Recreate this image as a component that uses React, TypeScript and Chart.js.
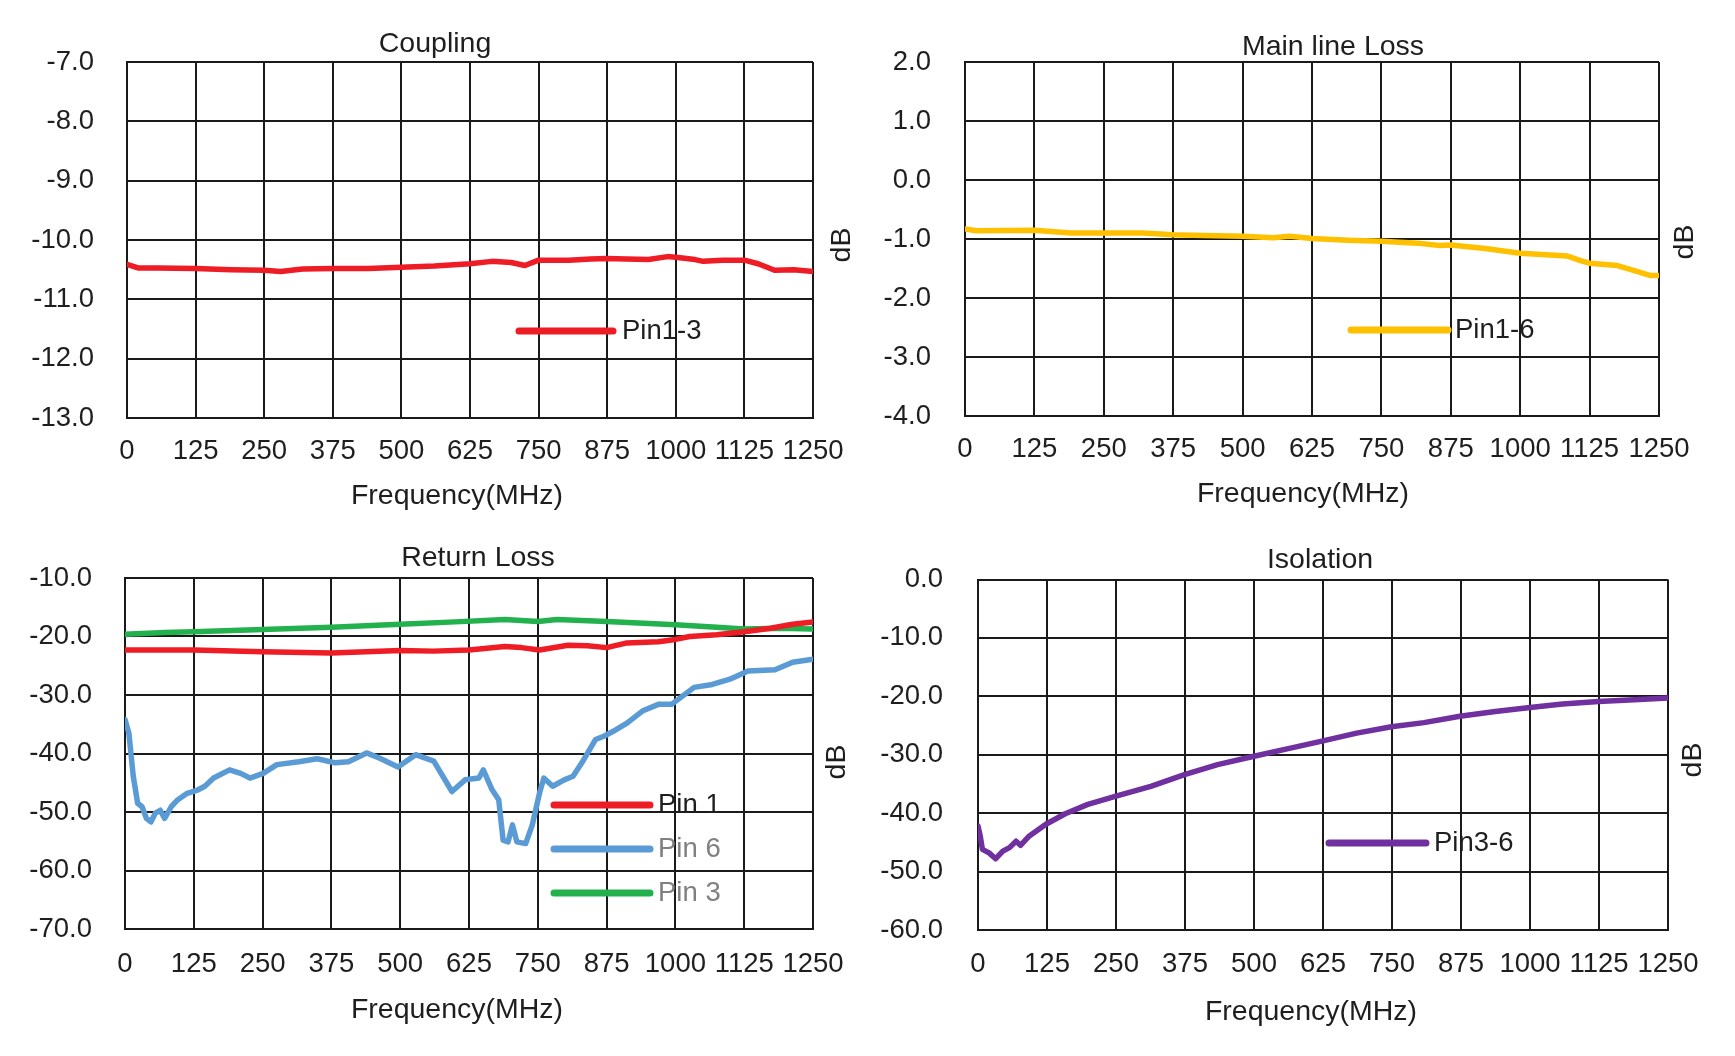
import React, { useEffect, useRef } from "react";
import { Chart, registerables } from "chart.js";

Chart.register(...registerables);

// ---------------- DATA ----------------
const FREQ_MIN = 0;
const FREQ_MAX = 1250;
const FREQ_STEP = 125;

// Coupling (Pin1-3)
const couplingFreq = [0, 20, 55, 125, 190, 250, 280, 320, 375, 440, 500, 560, 625, 665, 700, 725, 750, 805, 845, 875, 910, 950, 985, 1000, 1035, 1050, 1085, 1125, 1150, 1180, 1215, 1250];
const couplingDb = [-10.41, -10.47, -10.47, -10.48, -10.5, -10.51, -10.53, -10.49, -10.48, -10.48, -10.46, -10.44, -10.4, -10.36, -10.38, -10.43, -10.34, -10.34, -10.32, -10.31, -10.32, -10.33, -10.28, -10.29, -10.33, -10.36, -10.34, -10.34, -10.4, -10.51, -10.5, -10.53];

// Main line loss (Pin1-6)
const mainFreq = [0, 20, 125, 190, 250, 320, 375, 430, 500, 555, 585, 625, 690, 750, 815, 855, 875, 937, 1000, 1085, 1110, 1125, 1175, 1210, 1235, 1250];
const mainDb = [-0.83, -0.86, -0.85, -0.9, -0.9, -0.9, -0.93, -0.94, -0.955, -0.98, -0.955, -0.99, -1.02, -1.04, -1.07, -1.11, -1.1, -1.16, -1.24, -1.29, -1.37, -1.41, -1.45, -1.55, -1.62, -1.62];

// Return loss
const rlPin1Freq = [0, 125, 250, 375, 500, 560, 625, 690, 720, 753, 805, 840, 875, 912, 969, 1000, 1026, 1075, 1125, 1173, 1213, 1250];
const rlPin1Db = [-22.3, -22.3, -22.6, -22.8, -22.4, -22.5, -22.3, -21.7, -21.9, -22.3, -21.5, -21.6, -21.9, -21.1, -20.9, -20.5, -20.0, -19.7, -19.2, -18.6, -17.9, -17.5];

const rlPin6Freq = [0, 7, 15, 23, 31, 39, 47, 55, 64, 72, 84, 96, 113, 133, 145, 161, 190, 210, 227, 251, 276, 316, 349, 382, 406, 439, 463, 496, 528, 561, 594, 618, 643, 651, 667, 679, 687, 696, 704, 712, 728, 740, 753, 761, 777, 798, 814, 830, 855, 871, 887, 912, 940, 969, 993, 1034, 1067, 1099, 1132, 1181, 1213, 1250];
const rlPin6Db = [-34.2, -36.5, -43.9, -48.5, -49.1, -51.1, -51.7, -50.2, -49.7, -51.1, -49.1, -47.9, -46.8, -46.2, -45.6, -44.2, -42.8, -43.4, -44.2, -43.4, -41.9, -41.4, -40.9, -41.6, -41.4, -39.9, -40.8, -42.3, -40.2, -41.3, -46.5, -44.5, -44.2, -42.8, -46.2, -47.9, -54.8, -55.1, -52.2, -55.1, -55.4, -52.2, -46.8, -44.2, -45.6, -44.5, -43.9, -41.6, -37.6, -37.0, -36.2, -34.8, -32.75, -31.6, -31.6, -28.7, -28.2, -27.3, -25.9, -25.7, -24.4, -23.9];

const rlPin3Freq = [0, 72, 125, 250, 375, 500, 600, 690, 750, 785, 875, 1000, 1075, 1125, 1190, 1250];
const rlPin3Db = [-19.6, -19.3, -19.2, -18.8, -18.4, -17.9, -17.5, -17.1, -17.45, -17.1, -17.45, -18.0, -18.4, -18.7, -18.6, -18.7];

// Isolation (Pin3-6)
const isoFreq = [0, 4, 8, 20, 32, 45, 57, 69, 77, 93, 123, 158, 199, 250, 313, 374, 434, 498, 564, 621, 686, 749, 808, 873, 937, 1000, 1059, 1124, 1189, 1250];
const isoDb = [-42.2, -43.9, -46.2, -46.8, -47.8, -46.5, -45.9, -44.8, -45.5, -43.9, -41.9, -40.1, -38.5, -37.1, -35.4, -33.4, -31.7, -30.3, -28.9, -27.7, -26.3, -25.2, -24.5, -23.4, -22.6, -21.9, -21.3, -20.9, -20.6, -20.3];

// ---------------- STYLE ----------------
const FONT = "'Liberation Sans', Arial, sans-serif";
const TEXT = "#1e1e1e";
const GRID = "#1a1a1a";
const RED = "#EE1C25";
const YELLOW = "#FFC000";
const BLUE = "#5B9BD5";
const GREEN = "#22B14C";
const PURPLE = "#7030A0";
const TICK_SIZE = 27.5;
const LABEL_SIZE = 28.5;

type Series = { label: string; freq: number[]; db: number[]; color: string; textColor: string };
type Panel = {
  id: string;
  box: { left: number; top: number; width: number; height: number };
  plot: { l: number; t: number; r: number; b: number };
  yMin: number;
  yMax: number;
  yStep: number;
  yPad: number;
  xPad: number;
  title: string;
  titlePos: [number, number];
  xLabelPos: [number, number];
  dbPos: [number, number];
  legend: { x1: number; x2: number; textX: number; ys: number[] };
  series: Series[];
};

const panels: Panel[] = [
  {
    id: "coupling",
    box: { left: 0, top: 0, width: 868, height: 528 },
    plot: { l: 127, t: 62, r: 813, b: 418 },
    yMin: -13, yMax: -7, yStep: 1, yPad: 33, xPad: 17,
    title: "Coupling",
    titlePos: [435, 44],
    xLabelPos: [457, 496],
    dbPos: [842, 245],
    legend: { x1: 519, x2: 613, textX: 622, ys: [331] },
    series: [{ label: "Pin1-3", freq: couplingFreq, db: couplingDb, color: RED, textColor: TEXT }],
  },
  {
    id: "main",
    box: { left: 868, top: 0, width: 867, height: 528 },
    plot: { l: 965, t: 62, r: 1659, b: 416 },
    yMin: -4, yMax: 2, yStep: 1, yPad: 34, xPad: 17,
    title: "Main line Loss",
    titlePos: [1333, 47],
    xLabelPos: [1303, 494],
    dbPos: [1685, 242],
    legend: { x1: 1351, x2: 1448, textX: 1455, ys: [330] },
    series: [{ label: "Pin1-6", freq: mainFreq, db: mainDb, color: YELLOW, textColor: TEXT }],
  },
  {
    id: "return",
    box: { left: 0, top: 528, width: 868, height: 528 },
    plot: { l: 125, t: 578, r: 813, b: 929 },
    yMin: -70, yMax: -10, yStep: 10, yPad: 33, xPad: 19,
    title: "Return Loss",
    titlePos: [478, 558],
    xLabelPos: [457, 1010],
    dbPos: [837, 762],
    legend: { x1: 554, x2: 650, textX: 658, ys: [805, 849, 893] },
    series: [
      { label: "Pin 1", freq: rlPin1Freq, db: rlPin1Db, color: RED, textColor: TEXT },
      { label: "Pin 6", freq: rlPin6Freq, db: rlPin6Db, color: BLUE, textColor: "#808080" },
      { label: "Pin 3", freq: rlPin3Freq, db: rlPin3Db, color: GREEN, textColor: "#808080" },
    ],
  },
  {
    id: "isolation",
    box: { left: 868, top: 528, width: 867, height: 528 },
    plot: { l: 978, t: 578, r: 1668, b: 930 },
    yMin: -60, yMax: 0, yStep: 10, yPad: 35, xPad: 18,
    title: "Isolation",
    titlePos: [1320, 560],
    xLabelPos: [1311, 1012],
    dbPos: [1693, 760],
    legend: { x1: 1329, x2: 1426, textX: 1434, ys: [843] },
    series: [{ label: "Pin3-6", freq: isoFreq, db: isoDb, color: PURPLE, textColor: TEXT }],
  },
];

function ChartPanel({ panel }: { panel: Panel }) {
  const ref = useRef<HTMLCanvasElement | null>(null);

  useEffect(() => {
    const canvas = ref.current;
    if (!canvas) return;
    const { box, plot } = panel;
    const ox = box.left;
    const oy = box.top;

    const decorations = {
      id: "decorations-" + panel.id,
      afterDraw(chart: any) {
        const ctx = chart.ctx as CanvasRenderingContext2D;
        ctx.save();
        ctx.fillStyle = TEXT;
        ctx.textAlign = "center";
        ctx.textBaseline = "middle";
        ctx.font = `${LABEL_SIZE}px ${FONT}`;
        ctx.fillText(panel.title, panel.titlePos[0] - ox, panel.titlePos[1] - oy);
        ctx.fillText("Frequency(MHz)", panel.xLabelPos[0] - ox, panel.xLabelPos[1] - oy);

        ctx.save();
        ctx.translate(panel.dbPos[0] - ox, panel.dbPos[1] - oy);
        ctx.rotate(-Math.PI / 2);
        ctx.fillText("dB", 0, 0);
        ctx.restore();

        // legend
        panel.series.forEach((s, i) => {
          const y = panel.legend.ys[i] - oy;
          ctx.strokeStyle = s.color;
          ctx.lineWidth = 7;
          ctx.lineCap = "round";
          ctx.beginPath();
          ctx.moveTo(panel.legend.x1 - ox, y);
          ctx.lineTo(panel.legend.x2 - ox, y);
          ctx.stroke();
          ctx.fillStyle = s.textColor;
          ctx.textAlign = "left";
          ctx.font = `${TICK_SIZE}px ${FONT}`;
          ctx.fillText(s.label, panel.legend.textX - ox, y);
        });
        ctx.restore();
      },
    };

    const chart = new Chart(canvas, {
      type: "line",
      data: {
        datasets: panel.series.map((s) => ({
          label: s.label,
          data: s.freq.map((f, i) => ({ x: f, y: s.db[i] })),
          borderColor: s.color,
          backgroundColor: s.color,
          borderWidth: 5.5,
          borderCapStyle: "round",
          borderJoinStyle: "round",
          pointRadius: 0,
          tension: 0,
          fill: false,
        })),
      },
      options: {
        animation: false,
        responsive: false,
        maintainAspectRatio: false,
        devicePixelRatio: 1,
        events: [],
        layout: {
          padding: {
            left: 0,
            top: plot.t - box.top,
            right: box.left + box.width - plot.r,
            bottom: 0,
          },
        },
        plugins: {
          legend: { display: false },
          title: { display: false },
          tooltip: { enabled: false },
        },
        scales: {
          x: {
            type: "linear",
            min: FREQ_MIN,
            max: FREQ_MAX,
            afterFit: (scale: any) => {
              scale.height = box.top + box.height - plot.b;
            },
            afterBuildTicks: (scale: any) => {
              const t: { value: number }[] = [];
              for (let v = FREQ_MIN; v <= FREQ_MAX; v += FREQ_STEP) t.push({ value: v });
              scale.ticks = t;
            },
            ticks: {
              autoSkip: false,
              maxRotation: 0,
              minRotation: 0,
              padding: panel.xPad,
              color: TEXT,
              font: { family: FONT, size: TICK_SIZE },
              callback: (v: any) => String(v),
            },
            grid: { color: GRID, lineWidth: 2, drawTicks: false },
            border: { display: true, color: GRID, width: 2 },
          },
          y: {
            type: "linear",
            min: panel.yMin,
            max: panel.yMax,
            afterFit: (scale: any) => {
              scale.width = plot.l - box.left;
            },
            afterBuildTicks: (scale: any) => {
              const t: { value: number }[] = [];
              for (let v = panel.yMin; v <= panel.yMax + 1e-9; v += panel.yStep) t.push({ value: Math.round(v * 10) / 10 });
              scale.ticks = t;
            },
            ticks: {
              padding: panel.yPad,
              color: TEXT,
              font: { family: FONT, size: TICK_SIZE },
              callback: (v: any) => Number(v).toFixed(1),
            },
            grid: { color: GRID, lineWidth: 2, drawTicks: false },
            border: { display: true, color: GRID, width: 2 },
          },
        },
      },
      plugins: [decorations],
    } as any);

    return () => chart.destroy();
  }, [panel]);

  return (
    <canvas
      ref={ref}
      width={panel.box.width}
      height={panel.box.height}
      style={{
        position: "absolute",
        left: panel.box.left,
        top: panel.box.top,
        width: panel.box.width,
        height: panel.box.height,
      }}
    />
  );
}

export default function App() {
  return (
    <div
      style={{
        position: "fixed",
        left: 0,
        top: 0,
        width: 1735,
        height: 1056,
        background: "#ffffff",
        overflow: "hidden",
      }}
    >
      {panels.map((p) => (
        <ChartPanel key={p.id} panel={p} />
      ))}
    </div>
  );
}
